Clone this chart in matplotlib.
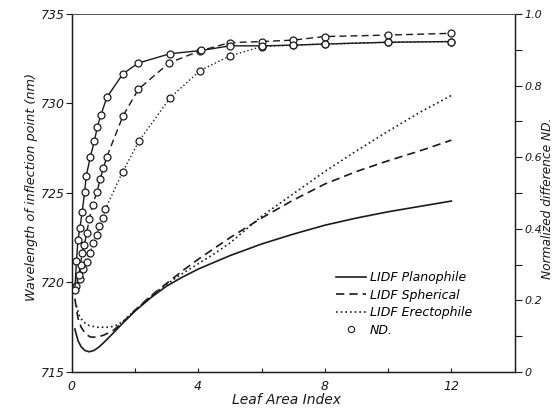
import matplotlib.pyplot as plt
from matplotlib.lines import Line2D
from matplotlib.ticker import MultipleLocator

plt.rcParams['font.family'] = ['DejaVu Sans']
plt.rcParams['font.style'] = 'italic'

# wavelength of the red-edge inflection point (nm) vs LAI
lai_plano = [0.1, 0.2, 0.3, 0.42, 0.55, 0.7, 0.85, 1.0, 1.3, 1.6, 2.0, 2.5, 3.0, 3.5,
             4.0, 5.0, 6.0, 7.0, 8.0, 9.0, 10.0, 11.0, 12.0]
wl_plano = [717.4, 716.75, 716.4, 716.2, 716.13, 716.2, 716.38, 716.62, 717.15, 717.7,
            718.4, 719.15, 719.8, 720.3, 720.75, 721.5, 722.15, 722.7, 723.2, 723.6,
            723.95, 724.25, 724.55]

lai_spher = [0.1, 0.2, 0.3, 0.45, 0.6, 0.8, 1.0, 1.3, 1.6, 2.0, 2.5, 3.0, 3.5, 4.0,
             4.5, 5.0, 6.0, 7.0, 8.0, 9.0, 10.0, 11.0, 12.0]
wl_spher = [719.1, 718.0, 717.5, 717.1, 716.95, 716.95, 717.05, 717.3, 717.75, 718.45,
            719.25, 719.95, 720.65, 721.3, 721.9, 722.5, 723.6, 724.6, 725.5, 726.2,
            726.8, 727.35, 727.95]

lai_erect = [0.15, 0.25, 0.37, 0.55, 0.8, 1.0, 1.2, 1.4, 1.6, 2.0, 2.5, 3.0, 3.5, 4.0,
             4.5, 5.0, 6.0, 7.0, 8.0, 9.0, 10.0, 11.0, 12.0]
wl_erect = [718.7, 718.1, 717.8, 717.6, 717.5, 717.5, 717.5, 717.6, 717.8, 718.45,
            719.2, 719.9, 720.5, 721.05, 721.6, 722.2, 723.7, 724.95, 726.2, 727.35,
            728.45, 729.5, 730.45]

# normalized difference ND vs LAI
nd_lai_plano = [0.1, 0.15, 0.2, 0.26, 0.33, 0.41, 0.46, 0.59, 0.72, 0.81, 0.92, 1.11,
                1.62, 2.11, 3.11, 4.09, 5, 6, 7, 8, 10, 12]
nd_plano = [0.23, 0.31, 0.37, 0.403, 0.446, 0.503, 0.548, 0.601, 0.646, 0.685, 0.717,
            0.767, 0.833, 0.863, 0.889, 0.898, 0.911, 0.911, 0.913, 0.916, 0.921, 0.923]

nd_lai_spher = [0.15, 0.22, 0.28, 0.33, 0.4, 0.47, 0.56, 0.66, 0.8, 0.9, 1.0, 1.11,
                1.62, 2.11, 3.09, 4.06, 5, 6, 7, 8, 10, 12]
nd_spher = [0.24, 0.27, 0.30, 0.332, 0.355, 0.387, 0.428, 0.467, 0.503, 0.539, 0.569,
            0.601, 0.715, 0.790, 0.864, 0.897, 0.920, 0.923, 0.927, 0.937, 0.941, 0.946]

nd_lai_erect = [0.26, 0.37, 0.47, 0.58, 0.68, 0.8, 0.87, 0.98, 1.06, 1.61, 2.12, 3.11,
                4.06, 5, 6, 7, 8, 10, 12]
nd_erect = [0.26, 0.287, 0.308, 0.333, 0.359, 0.383, 0.408, 0.429, 0.454, 0.559, 0.644,
            0.766, 0.842, 0.883, 0.909, 0.913, 0.916, 0.921, 0.923]

x_ticks = [0, 4, 8, 12]
wl_ticks = [715, 720, 725, 730, 735]
nd_ticks = [0, 0.2, 0.4, 0.6, 0.8, 1.0]
nd_ticklabels = ['0', '0.2', '0.4', '0.6', '0.8', '1.0']

ink = '#1a1a1a'
styles = {'Planophile': '-', 'Spherical': (0, (5, 3)), 'Erectophile': (0, (1, 1.8))}

fig = plt.figure(figsize=(5.54, 4.11), dpi=100)
ax = fig.add_axes([0.1294, 0.0949, 0.7996, 0.8711])
ax2 = ax.twinx()

ax.plot(lai_plano, wl_plano, color=ink, lw=1.2, ls=styles['Planophile'])
ax.plot(lai_spher, wl_spher, color=ink, lw=1.2, ls=styles['Spherical'])
ax.plot(lai_erect, wl_erect, color=ink, lw=1.2, ls=styles['Erectophile'])

mk = dict(marker='o', ms=5, mfc='white', mec=ink, mew=0.9, color=ink, lw=1.0)
ax2.plot(nd_lai_erect, nd_erect, ls=styles['Erectophile'], **mk)
ax2.plot(nd_lai_spher, nd_spher, ls=styles['Spherical'], **mk)
ax2.plot(nd_lai_plano, nd_plano, ls=styles['Planophile'], **mk)

ax.set_xlim(0, 14)
ax.set_ylim(715, 735)
ax2.set_ylim(0, 1.0)

ax.set_xticks(x_ticks)
ax.xaxis.set_minor_locator(MultipleLocator(2))
ax.tick_params(axis='x', which='both', direction='in', length=3, width=0.8,
               labelsize=9, pad=6, colors=ink)
ax.set_yticks(wl_ticks)
ax.tick_params(axis='y', direction='out', length=4, width=0.8, labelsize=9,
               colors=ink, pad=1)

ax2.set_yticks(nd_ticks)
ax2.set_yticklabels(nd_ticklabels)
ax2.yaxis.set_minor_locator(MultipleLocator(0.1))
ax2.tick_params(axis='y', which='both', direction='out', length=5, width=0.8,
                labelsize=8, colors=ink, pad=2)

for a in (ax, ax2):
    for s in a.spines.values():
        s.set_linewidth(0.9)
        s.set_color(ink)
    a.spines['top'].set_color('#555555')
    a.spines['top'].set_linewidth(0.7)

ax.set_xlabel('Leaf Area Index', fontsize=10, color=ink)
ax.xaxis.set_label_coords(0.484, -0.058)
ax.set_ylabel('Wavelength of inflection point (nm)', fontsize=9.3, color=ink)
ax.yaxis.set_label_coords(-0.077, 0.517)
ax2.set_ylabel('Normalized difference ND.', fontsize=8.8, color=ink)
ax2.yaxis.set_label_coords(1.06, 0.486)

handles = [
    Line2D([], [], color=ink, lw=1.2, ls=styles['Planophile']),
    Line2D([], [], color=ink, lw=1.2, ls=styles['Spherical']),
    Line2D([], [], color=ink, lw=1.2, ls=styles['Erectophile']),
    Line2D([], [], color=ink, ls='none', marker='o', ms=4.5, mfc='white', mew=0.8),
]
labels = ['LIDF Planophile', 'LIDF Spherical', 'LIDF Erectophile', 'ND.']
ax2.legend(handles, labels, loc='lower left', bbox_to_anchor=(0.585, 0.085),
           frameon=False, fontsize=9, handlelength=2.4, handletextpad=0.3,
           labelspacing=0.35, borderaxespad=0)

fig.savefig('out.png', dpi=100)
